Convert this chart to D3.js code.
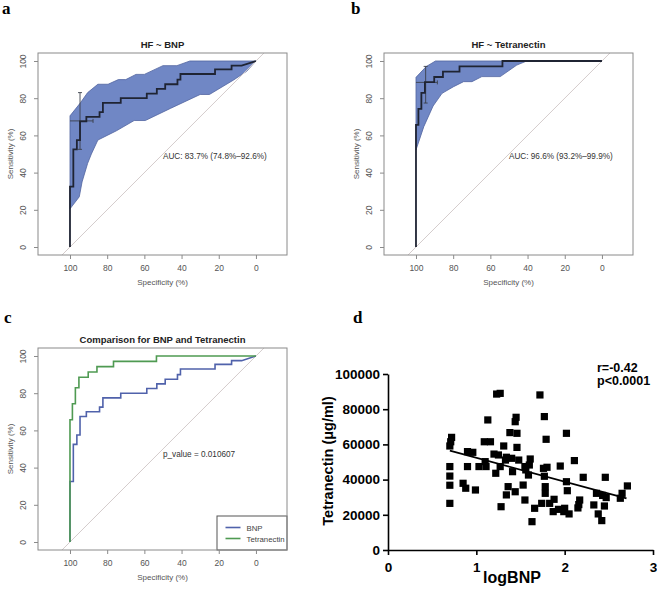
<!DOCTYPE html>
<html>
<head>
<meta charset="utf-8">
<script src="https://cdn.jsdelivr.net/npm/d3@7"></script>
<style>
  body { margin: 0; background: #fff; }
  svg { display: block; }
</style>
</head>
<body>
<svg id="fig" width="657" height="592"></svg>
<script>
// ROC step curves: specificity (%) and sensitivity (%)
const bnpSpec = [100, 100, 98.2, 98.2, 96.3, 96.3, 94.6, 94.6, 91.2, 91.2, 84.1, 84.1, 82.3, 82.3, 72.7, 72.7, 58.7, 58.7, 53.3, 53.3, 48.8, 48.8, 42.2, 42.2, 40.6, 40.6, 22, 22, 13.1, 13.1, 7.7, 0];
const bnpSens = [0, 32.5, 32.5, 52.5, 52.5, 57.5, 57.5, 67.5, 67.5, 70, 70, 72.5, 72.5, 77.5, 77.5, 80, 80, 82.5, 82.5, 85, 85, 87.5, 87.5, 90, 90, 93, 93, 95.5, 95.5, 97.5, 97.5, 100];

const tetSpec = [100, 100, 98.7, 98.7, 97.1, 97.1, 95.2, 95.2, 90.2, 90.2, 85.5, 85.5, 76.6, 76.6, 53.5, 53.5, 0];
const tetSens = [0, 65.7, 65.7, 74.3, 74.3, 82.9, 82.9, 88.6, 88.6, 91.4, 91.4, 94.3, 94.3, 97.1, 97.1, 100, 100];

// confidence bands (upper and lower edges)
const bnpUpSpec = [100, 94.4, 90.5, 85, 79.5, 74, 70, 64.5, 60, 50, 42.5, 35.5, 0];
const bnpUpSens = [70.5, 77.5, 83, 87.5, 87.5, 90, 90, 92.8, 92.8, 97.5, 97.5, 100, 100];
const bnpLoSpec = [100, 95, 93.5, 90.5, 88.5, 85, 80, 75, 65.5, 59.5, 46, 30, 25, 12, 5, 0];
const bnpLoSens = [20.5, 27, 35, 45, 50, 57.5, 60, 62.5, 68, 68, 74.5, 82, 82, 89.8, 94.5, 100];

const tetUpSpec = [100, 94.5, 89.5, 0];
const tetUpSens = [91.2, 97, 100, 100];
const tetLoSpec = [100, 95.8, 90.8, 86, 79.8, 74.4, 69.9, 64.6, 54.7, 45.8, 40.4, 0];
const tetLoSens = [52.2, 64.7, 75.8, 82.6, 86.2, 88.9, 88.9, 91.6, 91.6, 97.8, 100, 100];

// CI cross at best threshold: [spec, sens, sensLo, sensHi, specLo, specHi]
const bnpCross = [94.6, 67.8, 52.5, 83, 87.6, 100];
const tetCross = [94.8, 88.5, 77.4, 97.1, 88.5, 100];

const rocTicks = [0, 20, 40, 60, 80, 100];

// scatter: logBNP vs Tetranectin
const logBNP = [0.70, 0.70, 0.70, 0.70, 0.70, 0.71, 0.72, 0.85, 0.88, 0.90, 0.90, 0.96, 0.99, 1.03, 1.11, 1.10,
  1.09, 1.13, 1.16, 1.23, 1.27, 1.20, 1.22, 1.28, 1.25, 1.27, 1.31, 1.33, 1.34, 1.40, 1.41, 1.36, 1.34,
  1.38, 1.44, 1.45, 1.46, 1.46, 1.48, 1.44, 1.55, 1.61, 1.60, 1.56, 1.59, 1.53, 1.55, 1.66, 1.63, 1.74,
  1.72, 1.77, 1.79, 1.76, 1.80, 1.78, 1.78, 1.77, 1.83, 1.88, 1.87, 1.93, 1.99, 2.00, 2.05, 2.02, 1.95,
  2.02, 2.03, 2.11, 2.21, 2.17, 2.16, 2.15, 2.33, 2.36, 2.46, 2.43, 2.47, 2.38, 2.42, 2.45, 2.63, 2.65, 2.71];
const tetranectin = [26500, 36800, 42000, 47400, 59100, 61500, 64000, 37900, 35100, 55900, 47400, 55500, 34100, 47400, 47400, 50200,
  61500, 73900, 61500, 88600, 89000, 54500, 43600, 24600, 54000, 47400, 59100, 51100, 52700, 52100, 44500, 36000, 31300,
  66700, 72900, 75400, 66300, 58300, 51100, 33100, 47400, 51700, 48300, 45500, 42600, 36900, 28400, 23700, 16100, 26500,
  88100, 75800, 62900, 46400, 47000, 36000, 32200, 41900, 26500, 28800, 21800, 23100, 21800, 23700, 20500, 66300, 47700,
  38800, 33700, 50800, 41300, 28400, 25800, 23900, 25600, 32200, 41300, 31000, 29800, 20500, 16700, 25000, 29400, 32200, 36400];
const fitX = [0.70, 2.70];
const fitY = [56400, 29400];
const scatterYTicks = [0, 20000, 40000, 60000, 80000, 100000];
const scatterXTicks = [0, 1, 2, 3];

const sans = "'Liberation Sans', Arial, sans-serif";
const serif = "'Liberation Serif', 'Times New Roman', serif";

const svg = d3.select("#fig");
svg.append("rect").attr("width", 657).attr("height", 592).attr("fill", "#fff");

let clipId = 0;

function rocPanel(ox, oy, title, curves, bands, crosses, note, legend) {
  const g = svg.append("g").attr("transform", `translate(${ox},${oy})`);
  const x = d3.scaleLinear().domain([117.2, -16.7]).range([38, 287]);
  const y = d3.scaleLinear().domain([-4.3, 104.3]).range([255, 53]);

  const cid = "clip" + (clipId++);
  g.append("clipPath").attr("id", cid)
    .append("rect").attr("x", x.range()[0]).attr("y", y.range()[1])
    .attr("width", x.range()[1] - x.range()[0]).attr("height", y.range()[0] - y.range()[1]);
  const plot = g.append("g").attr("clip-path", `url(#${cid})`);

  // confidence band
  bands.forEach(b => {
    const pts = b.upSpec.map((s, i) => [s, b.upSens[i]])
      .concat(b.loSpec.map((s, i) => [s, b.loSens[i]]).reverse());
    plot.append("path")
      .attr("d", d3.line().x(d => x(d[0])).y(d => y(d[1]))(pts) + "Z")
      .attr("fill", "#7087c5").attr("stroke", "#52649f").attr("stroke-width", 0.8);
  });

  // chance diagonal
  plot.append("line")
    .attr("x1", x(120)).attr("y1", y(-20)).attr("x2", x(-20)).attr("y2", y(120))
    .attr("stroke", "#d4cccc").attr("stroke-width", 1);

  // CI cross
  crosses.forEach(c => {
    const [sp, se, seLo, seHi, spLo, spHi] = c;
    const cg = plot.append("g").attr("stroke", "#3a3f4a").attr("stroke-width", 0.9).attr("fill", "none");
    cg.append("line").attr("x1", x(sp)).attr("x2", x(sp)).attr("y1", y(seLo)).attr("y2", y(seHi));
    cg.append("line").attr("x1", x(sp) - 2).attr("x2", x(sp) + 2).attr("y1", y(seLo)).attr("y2", y(seLo));
    cg.append("line").attr("x1", x(sp) - 2).attr("x2", x(sp) + 2).attr("y1", y(seHi)).attr("y2", y(seHi));
    cg.append("line").attr("x1", x(spHi)).attr("x2", x(spLo)).attr("y1", y(se)).attr("y2", y(se));
    cg.append("line").attr("x1", x(spLo)).attr("x2", x(spLo)).attr("y1", y(se) - 2).attr("y2", y(se) + 2);
  });

  // ROC curves
  curves.forEach(c => {
    plot.append("path")
      .attr("d", d3.line().x(d => x(d[0])).y(d => y(d[1]))(c.spec.map((s, i) => [s, c.sens[i]])))
      .attr("fill", "none").attr("stroke", c.color).attr("stroke-width", c.width);
  });

  // legend (bottom-right corner of the box)
  if (legend) {
    const lg = g.append("g");
    lg.append("rect").attr("x", 217).attr("y", 221).attr("width", 70).attr("height", 34)
      .attr("fill", "#fff").attr("stroke", "#555").attr("stroke-width", 1);
    legend.forEach((l, i) => {
      const ly = 232.5 + i * 11;
      lg.append("line").attr("x1", 225.5).attr("x2", 240.5).attr("y1", ly).attr("y2", ly)
        .attr("stroke", l.color).attr("stroke-width", 1.6);
      lg.append("text").attr("x", 246.5).attr("y", ly + 3).attr("font-family", sans)
        .attr("font-size", 7.8).attr("fill", "#444").text(l.name);
    });
  }

  // box
  g.append("rect").attr("x", 38).attr("y", 53).attr("width", 249).attr("height", 202)
    .attr("fill", "none").attr("stroke", "#8a8a8a").attr("stroke-width", 1);

  // axes
  const ya = g.append("g").attr("transform", "translate(38,0)")
    .call(d3.axisLeft(y).tickValues(rocTicks).tickSize(4));
  const xa = g.append("g").attr("transform", "translate(0,255)")
    .call(d3.axisBottom(x).tickValues(rocTicks).tickSize(4));
  [ya, xa].forEach(a => {
    a.select(".domain").remove();
    a.selectAll("line").attr("stroke", "#8a8a8a");
    a.selectAll("text").attr("font-family", sans).attr("font-size", 8.5).attr("fill", "#555");
  });
  ya.selectAll("text").attr("x", null).attr("dy", null).attr("text-anchor", "middle")
    .attr("transform", "translate(-12,0) rotate(-90)");
  xa.selectAll("text").attr("y", 16).attr("dy", null);

  g.append("text").attr("x", 162.5).attr("y", 47.5).attr("text-anchor", "middle")
    .attr("font-family", sans).attr("font-weight", "bold").attr("font-size", 9.5).attr("fill", "#222")
    .text(title);
  g.append("text").attr("transform", "translate(13,154) rotate(-90)").attr("text-anchor", "middle")
    .attr("font-family", sans).attr("font-size", 8).attr("fill", "#555").text("Sensitivity (%)");
  g.append("text").attr("x", 162.5).attr("y", 284.5).attr("text-anchor", "middle")
    .attr("font-family", sans).attr("font-size", 8).attr("fill", "#555").text("Specificity (%)");

  g.append("text").attr("x", x(note.spec)).attr("y", y(note.sens)).attr("font-family", sans)
    .attr("font-size", 8.2).attr("fill", "#333").text(note.text);
}

const blue = "#5062ab", green = "#4f9a52", dark = "#1f2433";

rocPanel(0, 0, "HF ~ BNP",
  [{ spec: bnpSpec, sens: bnpSens, color: dark, width: 1.8 }],
  [{ upSpec: bnpUpSpec, upSens: bnpUpSens, loSpec: bnpLoSpec, loSens: bnpLoSens }],
  [bnpCross],
  { spec: 50, sens: 47.5, text: "AUC: 83.7% (74.8%\u201392.6%)" });

rocPanel(346, 0, "HF ~ Tetranectin",
  [{ spec: tetSpec, sens: tetSens, color: dark, width: 1.8 }],
  [{ upSpec: tetUpSpec, upSens: tetUpSens, loSpec: tetLoSpec, loSens: tetLoSens }],
  [tetCross],
  { spec: 50, sens: 47.5, text: "AUC: 96.6% (93.2%\u201399.9%)" });

rocPanel(0, 295, "Comparison for BNP and Tetranectin",
  [{ spec: bnpSpec, sens: bnpSens, color: blue, width: 1.6 },
   { spec: tetSpec, sens: tetSens, color: green, width: 1.6 }],
  [], [],
  { spec: 50, sens: 45.5, text: "p_value = 0.010607" },
  [{ name: "BNP", color: blue }, { name: "Tetranectin", color: green }]);

// panel d: scatter
const xd = d3.scaleLinear().domain([0, 3]).range([388, 653]);
const yd = d3.scaleLinear().domain([0, 100000]).range([550, 374]);
const gd = svg.append("g");

const yaxd = gd.append("g").attr("transform", "translate(388,0)")
  .call(d3.axisLeft(yd).tickValues(scatterYTicks).tickSize(5).tickSizeOuter(0).tickFormat(d => d));
const xaxd = gd.append("g").attr("transform", "translate(0,550)")
  .call(d3.axisBottom(xd).tickValues(scatterXTicks).tickSize(5).tickSizeOuter(0).tickFormat(d => d));
[yaxd, xaxd].forEach(a => {
  a.selectAll("path, line").attr("stroke", "#000").attr("stroke-width", 1.6);
  a.selectAll("text").attr("font-family", sans).attr("font-weight", "bold")
    .attr("font-size", 13.5).attr("fill", "#000");
});
yaxd.selectAll("text").attr("x", -8);
xaxd.selectAll("text").attr("y", 12).attr("dy", "0.71em");

gd.selectAll("rect.pt").data(logBNP).enter().append("rect").attr("class", "pt")
  .attr("x", (d, i) => xd(d) - 3.6).attr("y", (d, i) => yd(tetranectin[i]) - 3.6)
  .attr("width", 7.2).attr("height", 7.2).attr("fill", "#000");

gd.append("line").attr("x1", xd(fitX[0])).attr("y1", yd(fitY[0]))
  .attr("x2", xd(fitX[1])).attr("y2", yd(fitY[1]))
  .attr("stroke", "#000").attr("stroke-width", 1.8);

gd.append("text").attr("x", 512).attr("y", 583).attr("text-anchor", "middle")
  .attr("font-family", sans).attr("font-weight", "bold").attr("font-size", 16).text("logBNP");
gd.append("text").attr("transform", "translate(333,461) rotate(-90)").attr("text-anchor", "middle")
  .attr("font-family", sans).attr("font-weight", "bold").attr("font-size", 14.5).text("Tetranectin (\u03bcg/ml)");
gd.append("text").attr("x", 597).attr("y", 372).attr("font-family", sans).attr("font-weight", "bold")
  .attr("font-size", 12.5).text("r=-0.42");
gd.append("text").attr("x", 597).attr("y", 385).attr("font-family", sans).attr("font-weight", "bold")
  .attr("font-size", 12.5).text("p<0.0001");

// panel letters
[["a", 2, 14], ["b", 351, 14], ["c", 4, 323], ["d", 353, 323]].forEach(([t, lx, ly]) => {
  svg.append("text").attr("x", lx).attr("y", ly).attr("font-family", serif)
    .attr("font-weight", "bold").attr("font-size", 17).attr("fill", "#000").text(t);
});
</script>
</body>
</html>
